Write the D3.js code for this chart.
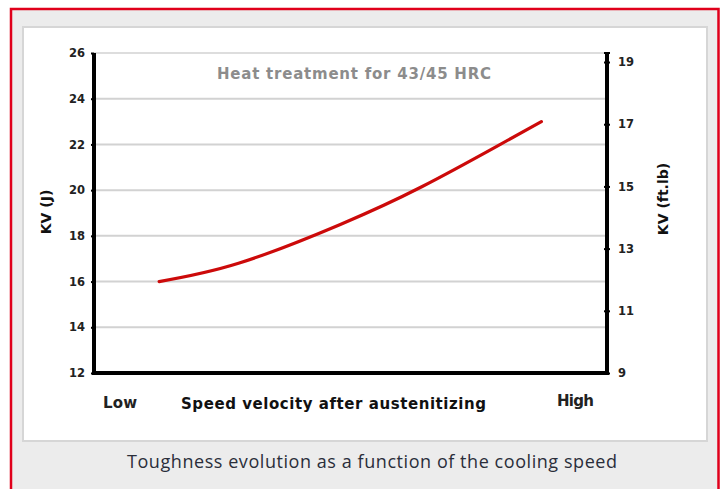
<!DOCTYPE html>
<html><head><meta charset="utf-8">
<script src="https://cdn.jsdelivr.net/npm/d3@7/dist/d3.min.js"></script>
<style>html,body{margin:0;padding:0;background:#fff;}svg{display:block;}</style>
</head><body>
<svg id="c" width="724" height="489"></svg>
<script>
// ---- data ----
const speedIdx = [12.4, 28, 48, 64, 79, 87.5];      // position along "speed" axis (0 = Low side, 100 = High side)
const kvJoules = [16.0, 16.8, 18.5, 20.15, 21.95, 23.0];
const leftTicks = [12, 14, 16, 18, 20, 22, 24, 26];
const rightTicks = [9, 11, 13, 15, 17, 19];
const xLabels = ["Low", "High"];
const title = "Heat treatment for 43/45 HRC";
const xTitle = "Speed velocity after austenitizing";
const yLeftTitle = "KV (J)";
const yRightTitle = "KV (ft.lb)";
const caption = "Toughness evolution as a function of the cooling speed";

const svg = d3.select("#c");
// frame
svg.append("rect").attr("x", 11).attr("y", 9).attr("width", 707.5).attr("height", 500)
  .attr("fill", "#ececec").attr("stroke", "#e0001b").attr("stroke-width", 2.5);
svg.append("rect").attr("x", 23).attr("y", 27).attr("width", 684).attr("height", 414)
  .attr("fill", "#fff").attr("stroke", "#d6d6d6").attr("stroke-width", 2);

const L = 94, R = 607, T = 53, B = 373;
const x = d3.scaleLinear().domain([0, 100]).range([L + 2, R - 2]);
const y = d3.scaleLinear().domain([12, 26]).range([B, T]);
const y2 = d3.scaleLinear().domain([9, 19.29]).range([B, T]);

// gridlines
svg.append("g").selectAll("line").data(leftTicks.filter(d => d > 12)).join("line")
  .attr("x1", L).attr("x2", R).attr("y1", d => y(d)).attr("y2", d => y(d))
  .attr("stroke", "#d2d2d2").attr("stroke-width", d => d === 26 ? 1.5 : 2);

// title
svg.append("text").attr("x", 354).attr("y", 79).attr("text-anchor", "middle")
  .attr("font-family", "DejaVu Sans").attr("font-weight", "bold").attr("font-size", 15)
  .attr("textLength", 274).attr("lengthAdjust", "spacing")
  .attr("fill", "#8c8c8c").text(title);

// line
const line = d3.line().x((d, i) => x(speedIdx[i])).y(d => y(d)).curve(d3.curveNatural);
svg.append("path").datum(kvJoules).attr("d", line).attr("fill", "none")
  .attr("stroke", "#cc0a0a").attr("stroke-width", 3.2).attr("stroke-linecap", "round");

// left axis
const gl = svg.append("g").attr("transform", `translate(${L},0)`);
gl.call(d3.axisLeft(y).tickValues(leftTicks).tickSize(3).tickPadding(6).tickFormat(d3.format("d")));
gl.select(".domain").attr("stroke", "#000").attr("stroke-width", 4).attr("d", `M0,${T}V${B + 2}`);
gl.selectAll(".tick line").attr("stroke", "#000").attr("stroke-width", 2);
gl.selectAll("text").attr("font-family", "DejaVu Sans").attr("font-weight", "bold")
  .attr("font-size", 11.5).attr("fill", "#222");

// right axis
const gr = svg.append("g").attr("transform", `translate(${R},0)`);
gr.call(d3.axisRight(y2).tickValues(rightTicks).tickSize(3).tickPadding(8).tickFormat(d3.format("d")));
gr.select(".domain").attr("stroke", "#000").attr("stroke-width", 4).attr("d", `M0,${T}V${B + 2}`);
gr.selectAll(".tick line").attr("stroke", "#000").attr("stroke-width", 2).attr("x1", -3);
gr.selectAll("text").attr("font-family", "DejaVu Sans").attr("font-weight", "bold")
  .attr("font-size", 11.5).attr("fill", "#222");
svg.append("line").attr("x1", R - 3).attr("x2", R + 3).attr("y1", T).attr("y2", T)
  .attr("stroke", "#000").attr("stroke-width", 2);

// bottom axis
svg.append("line").attr("x1", L - 2).attr("x2", R + 2).attr("y1", B).attr("y2", B)
  .attr("stroke", "#000").attr("stroke-width", 4);

// x labels
const xl = [[xLabels[0], 103, 408, 34], [xLabels[1], 557, 406, 37]];
svg.append("g").selectAll("text").data(xl).join("text")
  .attr("x", d => d[1]).attr("y", d => d[2]).attr("textLength", d => d[3]).attr("lengthAdjust", "spacing")
  .attr("font-family", "DejaVu Sans").attr("font-weight", "bold").attr("font-size", 15)
  .attr("fill", "#222").text(d => d[0]);
svg.append("text").attr("x", 181).attr("y", 409)
  .attr("textLength", 305).attr("lengthAdjust", "spacing")
  .attr("font-family", "DejaVu Sans").attr("font-weight", "bold").attr("font-size", 15)
  .attr("fill", "#111").text(xTitle);

// y titles
svg.append("text").attr("transform", "translate(51,212) rotate(-90)").attr("text-anchor", "middle")
  .attr("font-family", "DejaVu Sans").attr("font-weight", "bold").attr("font-size", 14)
  .attr("fill", "#111").text(yLeftTitle);
svg.append("text").attr("transform", "translate(668,199) rotate(-90)").attr("text-anchor", "middle")
  .attr("font-family", "DejaVu Sans").attr("font-weight", "bold").attr("font-size", 14)
  .attr("fill", "#111").text(yRightTitle);

// caption
svg.append("text").attr("x", 127).attr("y", 468)
  .attr("textLength", 490).attr("lengthAdjust", "spacing")
  .attr("font-family", "Open Sans").attr("font-size", 18)
  .attr("fill", "#2a2e3a").text(caption);
</script>
</body></html>
